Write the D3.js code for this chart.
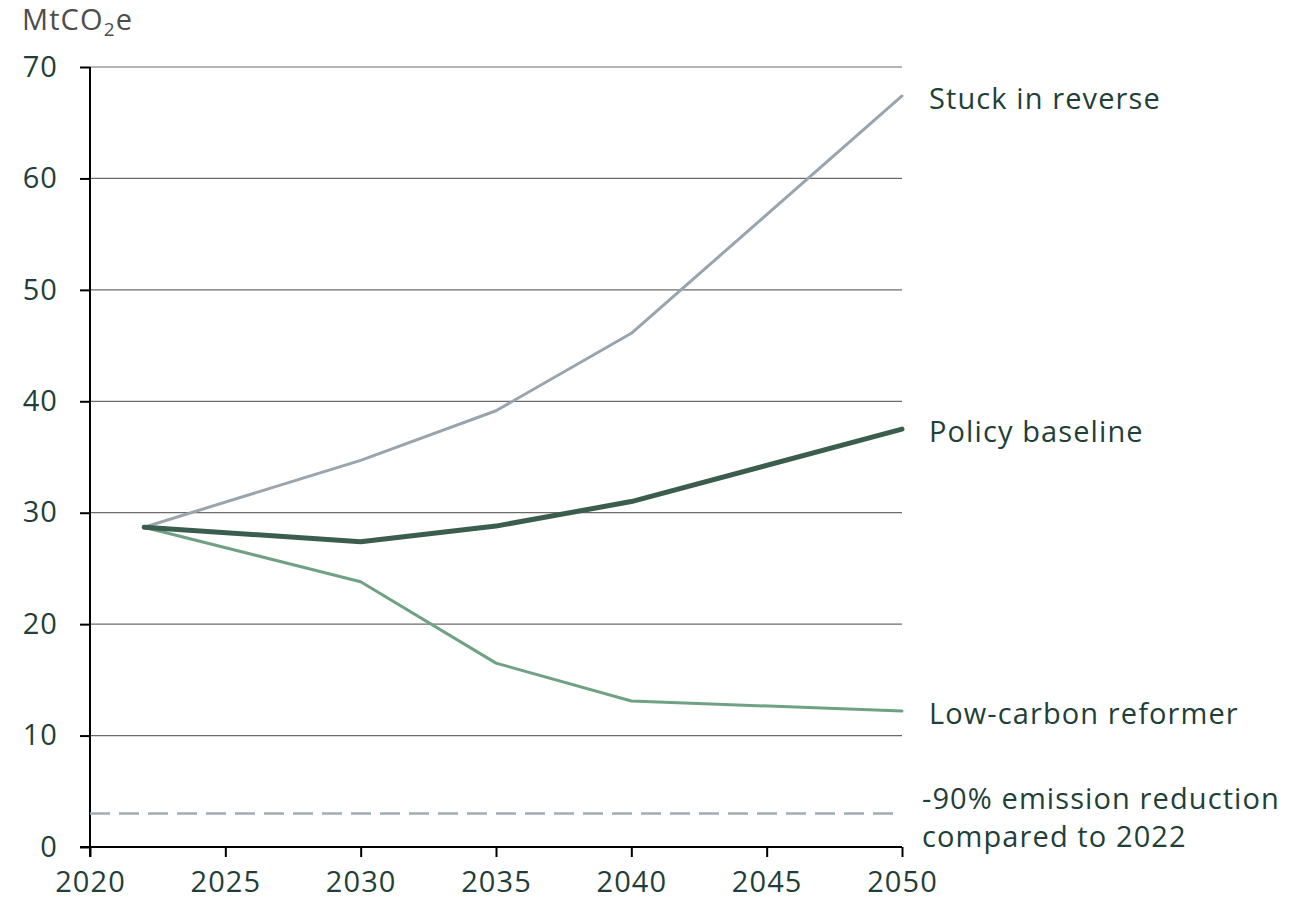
<!DOCTYPE html>
<html><head><meta charset="utf-8">
<script src="https://cdn.jsdelivr.net/npm/d3@7"></script>
<style>
body{margin:0;background:#fff;}
text{font-family:"Open Sans","Noto Sans",sans-serif;}
</style></head>
<body><svg id="c" width="1296" height="900"></svg>
<script>
const years = [2022, 2030, 2035, 2040, 2050];
const stuckInReverse = [28.7, 34.7, 39.15, 46.1, 67.4];
const policyBaseline = [28.7, 27.4, 28.8, 31.0, 37.5];
const lowCarbonReformer = [28.7, 23.8, 16.5, 13.1, 12.2];
const reductionTarget = 3.0;
const xTicks = [2020, 2025, 2030, 2035, 2040, 2045, 2050];
const yTicks = [0, 10, 20, 30, 40, 50, 60, 70];
const seriesNames = ["Stuck in reverse", "Policy baseline", "Low-carbon reformer"];
const targetLabel = ["-90% emission reduction", "compared to 2022"];

const svg = d3.select("#c");
const x = d3.scaleLinear().domain([2020, 2050]).range([90, 902]);
const y = d3.scaleLinear().domain([0, 70]).range([847, 67]);
const textCol = "#1f3f38";
const fs = 29;
const ls = "1.1px";
const ff = "'Open Sans', 'Noto Sans', sans-serif";

// grid
svg.append("g").selectAll("line").data(yTicks.filter(d => d > 0)).join("line")
  .attr("x1", x(2020)).attr("x2", x(2050))
  .attr("y1", d => y(d)).attr("y2", d => y(d))
  .attr("stroke", "#6b6b6b").attr("stroke-width", 1.2);

// axes
const yAxis = svg.append("g").attr("transform", `translate(${x(2020)},0)`)
  .call(d3.axisLeft(y).tickValues(yTicks).tickSize(10).tickPadding(22));
const xAxis = svg.append("g").attr("transform", `translate(0,${y(0)})`)
  .call(d3.axisBottom(x).tickValues(xTicks).tickFormat(d3.format("d")).tickSize(10).tickPadding(14));
[yAxis, xAxis].forEach(a => {
  a.select(".domain").attr("stroke", "#000").attr("stroke-width", 2);
  a.selectAll(".tick line").attr("stroke", "#000").attr("stroke-width", 2);
  a.selectAll(".tick text").attr("fill", textCol).attr("font-size", fs)
    .attr("font-family", ff).attr("letter-spacing", ls);
});
yAxis.select(".domain").attr("d", `M0,${y(0)+10}V${y(70)}`);
xAxis.select(".domain").attr("d", `M${x(2020)-10},0H${x(2050)}`);

// unit label
const ut = svg.append("text").attr("x", 22).attr("y", 30).attr("fill", "#4d4d4d").attr("font-size", fs).attr("letter-spacing", ls);
ut.append("tspan").text("MtCO");
ut.append("tspan").text("2").attr("font-size", 19).attr("dy", 6);
ut.append("tspan").text("e").attr("dy", -6);

// target dashed line
svg.append("line").attr("x1", x(2020)).attr("x2", x(2050))
  .attr("y1", y(reductionTarget)).attr("y2", y(reductionTarget))
  .attr("stroke", "#a3acb4").attr("stroke-width", 2.5).attr("stroke-dasharray", "20,9");

const line = d3.line().x((d, i) => x(years[i])).y(d => y(d));
const series = [
  {name: seriesNames[0], vals: stuckInReverse, color: "#99a5ae", w: 3},
  {name: seriesNames[2], vals: lowCarbonReformer, color: "#6ea283", w: 3},
  {name: seriesNames[1], vals: policyBaseline, color: "#3b5d4e", w: 5},
];
series.forEach(s => {
  svg.append("path").datum(s.vals).attr("d", line).attr("fill", "none")
    .attr("stroke", s.color).attr("stroke-width", s.w)
    .attr("stroke-linejoin", "round").attr("stroke-linecap", "round");
  svg.append("text").attr("x", 929).attr("y", y(s.vals[s.vals.length - 1]))
    .attr("dy", 13).attr("fill", textCol).attr("font-size", fs).attr("letter-spacing", ls).text(s.name);
});

svg.append("text").attr("x", 922).attr("y", 809).attr("fill", textCol).attr("font-size", fs).attr("letter-spacing", ls).text(targetLabel[0]);
svg.append("text").attr("x", 922).attr("y", 847).attr("fill", textCol).attr("font-size", fs).attr("letter-spacing", ls).text(targetLabel[1]);
</script></body></html>
